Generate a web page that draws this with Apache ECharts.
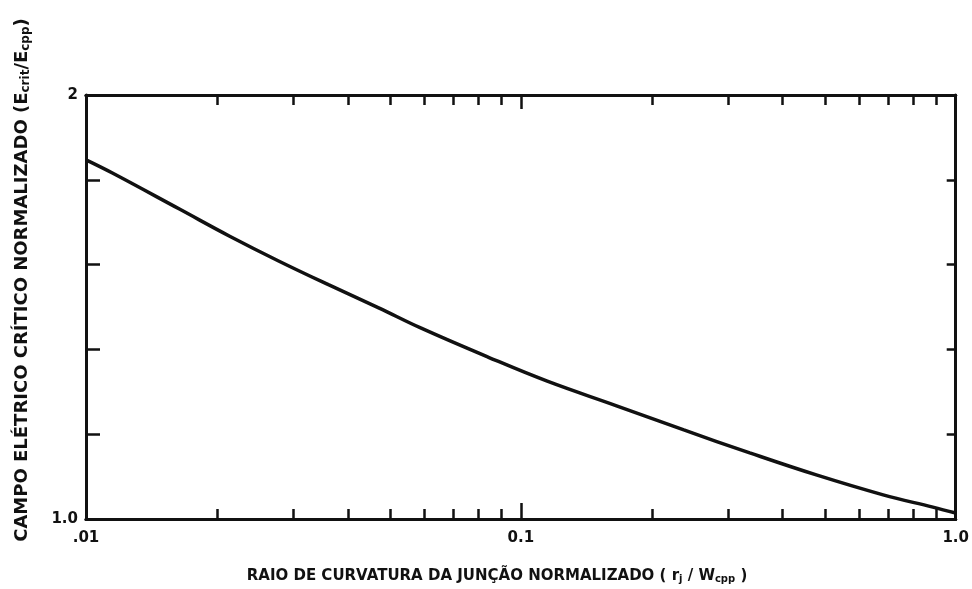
<!DOCTYPE html>
<html>
<head>
<meta charset="utf-8">
<script src="https://cdn.jsdelivr.net/npm/echarts@6/dist/echarts.min.js"></script>
<style>
  html, body { margin: 0; padding: 0; background: #fff; }
  #chart { width: 972px; height: 589px; }
</style>
</head>
<body>
<div id="chart"></div>
<script>
// Normalized junction curvature radius (r_j / W_cpp)
const radius = [0.01, 0.0115, 0.0164, 0.0214, 0.0278, 0.0362, 0.0471, 0.059, 0.084, 0.115, 0.166, 0.237, 0.336, 0.478, 0.681, 0.886, 1.0];
// Normalized critical electric field
const field = [1.847, 1.816, 1.731, 1.667, 1.608, 1.552, 1.498, 1.450, 1.382, 1.325, 1.267, 1.210, 1.156, 1.104, 1.057, 1.028, 1.014];

const xMajorTicks = [0.01, 0.1, 1];
const xTickLabels = ['.01', '0.1', '1.0'];
const xMinorTicks = [0.02, 0.03, 0.04, 0.05, 0.06, 0.07, 0.08, 0.09, 0.2, 0.3, 0.4, 0.5, 0.6, 0.7, 0.8, 0.9];
const yLabelValues = [1, 2];
const yTickLabels = ['1.0', '2'];

const FONT = 'DejaVu Sans';
const INK = '#111';

const chart = echarts.init(document.getElementById('chart'), null, { renderer: 'canvas' });

function xAxisDef(pos, ticks, len, withLabels) {
  return {
    type: 'log',
    logBase: 10,
    min: 0.01,
    max: 1,
    position: pos,
    axisLine: { show: true, lineStyle: { color: INK, width: 3 } },
    axisTick: { show: true, inside: true, length: len, customValues: ticks, lineStyle: { color: INK, width: 2.5 } },
    axisLabel: withLabels ? {
      show: true,
      customValues: xMajorTicks,
      margin: 12,
      color: INK,
      fontFamily: FONT,
      fontWeight: 'bold',
      fontSize: 15,
      formatter: v => {
        const i = xMajorTicks.findIndex(t => Math.abs(t - v) < 1e-9);
        return i >= 0 ? xTickLabels[i] : '';
      }
    } : { show: false },
    splitLine: { show: false },
    minorTick: { show: false }
  };
}

function yAxisDef(pos, len, withLabels) {
  return {
    type: 'value',
    min: 1,
    max: 2,
    interval: 0.2,
    position: pos,
    axisLine: { show: true, lineStyle: { color: INK, width: 3 } },
    axisTick: { show: true, inside: true, length: len, lineStyle: { color: INK, width: 2.5 } },
    axisLabel: withLabels ? {
      show: true,
      customValues: yLabelValues,
      margin: 8,
      color: INK,
      fontFamily: FONT,
      fontWeight: 'bold',
      fontSize: 15,
      formatter: v => {
        const i = yLabelValues.findIndex(t => Math.abs(t - v) < 1e-9);
        return i >= 0 ? yTickLabels[i] : '';
      }
    } : { show: false },
    splitLine: { show: false }
  };
}

const titleRich = size => ({
  t: { fontFamily: FONT, fontWeight: 'bold', fontSize: size, fill: INK, color: INK },
  s: { fontFamily: FONT, fontWeight: 'bold', fontSize: Math.round(size * 0.68), fill: INK, color: INK, verticalAlign: 'bottom', padding: [7, 0, 0, 0] }
});

const option = {
  backgroundColor: '#fff',
  animation: false,
  grid: { left: 86, right: 12, top: 95, bottom: 70, containLabel: false },
  xAxis: [
    xAxisDef('bottom', xMajorTicks, 16, true),
    xAxisDef('bottom', xMinorTicks, 10, false),
    xAxisDef('top', xMajorTicks, 14, false),
    xAxisDef('top', xMinorTicks, 10, false)
  ],
  yAxis: [
    yAxisDef('left', 14, true),
    yAxisDef('right', 9, false)
  ],
  graphic: [
    {
      type: 'text',
      x: 497,
      y: 576,
      style: {
        text: '{t|RAIO DE CURVATURA DA JUNÇÃO NORMALIZADO ( r}{s|j}{t| / W}{s|cpp}{t| )}',
        rich: titleRich(15),
        align: 'center',
        verticalAlign: 'middle'
      }
    },
    {
      type: 'text',
      x: 22,
      y: 280,
      rotation: Math.PI / 2,
      style: {
        text: '{t|CAMPO ELÉTRICO CRÍTICO NORMALIZADO (E}{s|crit}{t|/E}{s|cpp}{t|)}',
        rich: titleRich(18),
        align: 'center',
        verticalAlign: 'middle'
      }
    }
  ],
  series: [{
    type: 'line',
    xAxisIndex: 0,
    yAxisIndex: 0,
    data: radius.map((r, i) => [r, field[i]]),
    smooth: 0.4,
    showSymbol: false,
    symbol: 'none',
    lineStyle: { color: INK, width: 3.5 },
    clip: true
  }]
};

chart.setOption(option);
</script>
</body>
</html>
